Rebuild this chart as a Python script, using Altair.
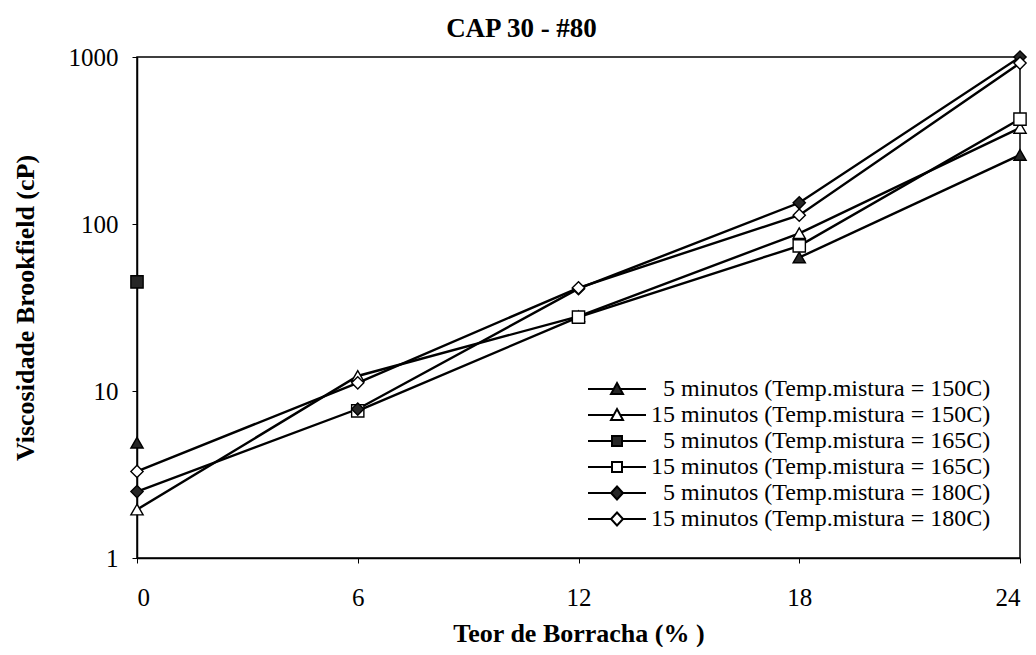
import altair as alt
import pandas as pd

# ---- data ----
teor = [0, 6, 12, 18, 24]
series_names = [
    "5 minutos (Temp.mistura = 150C)",
    "15 minutos (Temp.mistura = 150C)",
    "5 minutos (Temp.mistura = 165C)",
    "15 minutos (Temp.mistura = 165C)",
    "5 minutos (Temp.mistura = 180C)",
    "15 minutos (Temp.mistura = 180C)",
]
v_5_150 = [4.9, None, None, 63, 259]
v_15_150 = [1.95, 12.3, 28, 88, 376]
v_5_165 = [45, None, None, None, None]
v_15_165 = [None, 7.6, 27.7, 74, 425]
v_5_180 = [2.5, 7.8, 41, 134, 1000]
v_15_180 = [3.3, 11.2, 41.5, 113, 920]
series_values = [v_5_150, v_15_150, v_5_165, v_15_165, v_5_180, v_15_180]
y_ticks = [1, 10, 100, 1000]

# ---- styles ----
plot_shapes = ["triangle-up", "triangle-up", "square", "square", "diamond", "diamond"]
fills = ["#262626", "white", "#262626", "white", "#262626", "white"]
legend_paths = [
    "M-2.9,0H-0.33M0.33,0H2.9M0,-0.6L0.6,0.5L-0.6,0.5Z",
    "M-2.9,0H-0.33M0.33,0H2.9M0,-0.6L0.6,0.5L-0.6,0.5Z",
    "M-2.9,0H-0.5M0.5,0H2.9M-0.5,-0.5H0.5V0.5H-0.5Z",
    "M-2.9,0H-0.5M0.5,0H2.9M-0.5,-0.5H0.5V0.5H-0.5Z",
    "M-2.9,0H-0.6M0.6,0H2.9M0,-0.65L0.6,0L0,0.65L-0.6,0Z",
    "M-2.9,0H-0.6M0.6,0H2.9M0,-0.65L0.6,0L0,0.65L-0.6,0Z",
]
legend_labels = [("\u200b\u00a0\u00a0" + n) if n.startswith("5 ") else n for n in series_names]

rows = []
for i, (name, vals) in enumerate(zip(series_names, series_values)):
    seg = 0
    for x, v in zip(teor, vals):
        if v is None:
            seg += 1
            continue
        rows.append({"series": name, "legend": legend_labels[i], "x": x, "y": v,
                     "seg": f"{i}-{seg}", "ord": i})
df = pd.DataFrame(rows)

FONT = "Liberation Serif"

x_enc = alt.X("x:Q", scale=alt.Scale(domain=[0, 24], nice=False),
              axis=alt.Axis(values=teor, title="Teor de Borracha (% )", grid=False,
                            labelFontSize=25, titleFontSize=26, labelPadding=22,
                            titlePadding=10, tickSize=5))
y_enc = alt.Y("y:Q", scale=alt.Scale(type="log", domain=[1, 1000], nice=False),
              axis=alt.Axis(values=y_ticks, format="d", title="Viscosidade Brookfield (cP)",
                            grid=False, labelFontSize=25, titleFontSize=26, labelPadding=14,
                            titlePadding=30, tickSize=5))

lines = alt.Chart(df).mark_line(color="black", strokeWidth=2.4).encode(
    x=x_enc, y=y_enc, detail="seg:N"
)

points = alt.Chart(df).mark_point(filled=True, size=150, stroke="black",
                                  strokeWidth=1.4, opacity=1).encode(
    x=x_enc, y=y_enc,
    shape=alt.Shape("series:N", scale=alt.Scale(domain=series_names, range=plot_shapes), legend=None),
    fill=alt.Fill("series:N", scale=alt.Scale(domain=series_names, range=fills), legend=None),
    order=alt.Order("ord:Q"),
)

leg = alt.Legend(title=None, orient="none", legendX=468, legendY=320,
                 labelFont=FONT, labelFontSize=24, labelColor="black", labelLimit=600,
                 labelOffset=22, symbolSize=400, symbolStrokeWidth=2,
                 symbolStrokeColor="black", symbolOpacity=1, rowPadding=2, padding=0)

legend_layer = alt.Chart(df).transform_filter("datum.y < 0").mark_point(
    filled=True, opacity=1, strokeWidth=2).encode(
    x=x_enc, y=y_enc,
    shape=alt.Shape("legend:N", scale=alt.Scale(domain=legend_labels, range=legend_paths), legend=leg),
    fill=alt.Fill("legend:N", scale=alt.Scale(domain=legend_labels, range=fills), legend=leg),
    stroke=alt.Stroke("legend:N", scale=alt.Scale(domain=legend_labels, range=["black"] * 6), legend=leg),
)

chart = alt.layer(lines, points, legend_layer).resolve_scale(
    shape="independent", fill="independent", stroke="independent"
).properties(
    width=883, height=501,
    autosize=alt.AutoSizeParams(type="none"),
    padding={"left": 129, "top": 49, "right": 8, "bottom": 89},
    title=alt.TitleParams("CAP 30 - #80", font=FONT, fontSize=27, fontWeight="bold",
                          color="black", anchor="middle", dx=-57, offset=2),
).configure_view(stroke="black", strokeWidth=1.5).configure_axis(
    labelFont=FONT, titleFont=FONT, labelColor="black", titleColor="black",
    domainColor="black", tickColor="black", domainWidth=1.5, titleFontWeight="bold"
)

chart.save("out.html", embed_options={"renderer": "svg", "actions": False})
